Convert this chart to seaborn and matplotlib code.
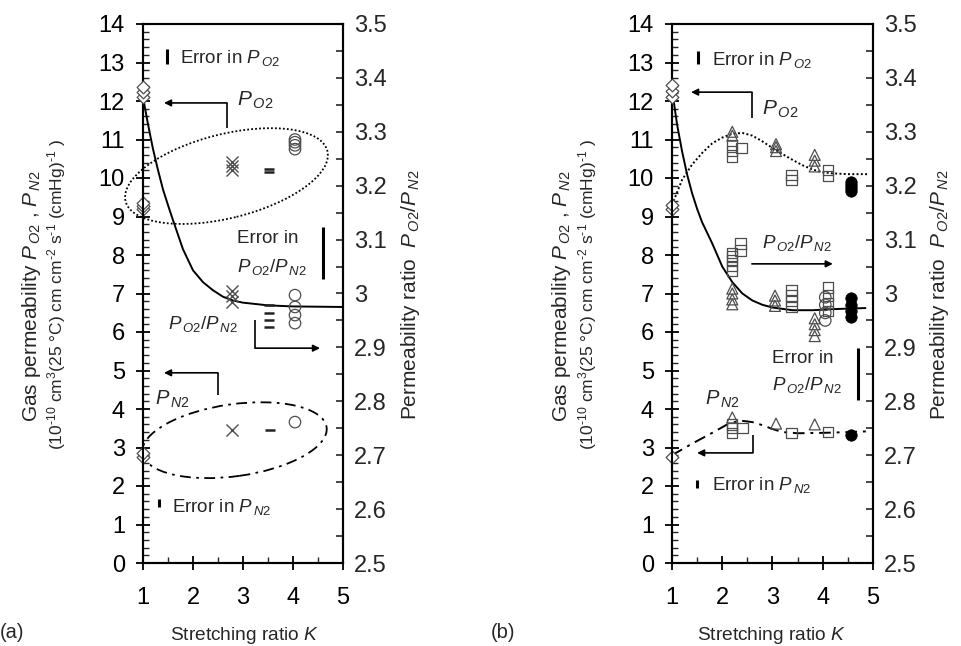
import matplotlib
matplotlib.use("Agg")
import matplotlib.pyplot as plt
import matplotlib.transforms as mtransforms
from matplotlib.patches import Ellipse
from matplotlib.ticker import MultipleLocator, FuncFormatter
import numpy as np
import seaborn as sns

sns.set_theme(style="ticks", rc={"axes.linewidth": 1.5})
plt.rcParams["font.family"] = ["Liberation Sans", "DejaVu Sans"]
plt.rcParams["mathtext.fontset"] = "custom"
plt.rcParams["mathtext.rm"] = "Liberation Sans"
plt.rcParams["mathtext.it"] = "Liberation Sans:italic"
plt.rcParams["mathtext.bf"] = "Liberation Sans:bold"

GRAY = "#4d4d4d"

# ---------------- panel (a) ----------------
# oxygen permeability P_O2 (left axis)
a_o2_k = [1, 1, 1, 2.78, 2.78, 2.78, 3.52, 3.52, 4.04, 4.04, 4.04, 4.04]
a_o2_v = [9.2, 9.28, 9.36, 10.22, 10.32, 10.42, 10.15, 10.24, 10.75, 10.85, 10.93, 11.0]
a_o2_m = ["D", "D", "D", "x", "x", "x", "_", "_", "o", "o", "o", "o"]
# nitrogen permeability P_N2 (left axis)
a_n2_k = [1, 1, 2.78, 3.54, 4.04]
a_n2_v = [2.75, 2.85, 3.45, 3.45, 3.66]
a_n2_m = ["D", "D", "x", "_", "o"]
# selectivity P_O2/P_N2 (right axis)
a_r_k = [1, 1, 1, 2.78, 2.78, 2.78, 3.52, 3.52, 3.52, 3.52, 4.04, 4.04, 4.04, 4.04]
a_r_v = [3.364, 3.373, 3.383, 2.985, 2.995, 3.005, 2.938, 2.951, 2.964, 2.979,
         2.945, 2.960, 2.975, 2.997]
a_r_m = ["D"] * 3 + ["x"] * 3 + ["_"] * 4 + ["o"] * 4
# fitted selectivity curve
a_fit_k = [1.0, 1.1, 1.2, 1.3, 1.4, 1.5, 1.6, 1.8, 2.0, 2.2, 2.4, 2.6, 2.8, 3.0, 3.5, 4.0, 5.0]
a_fit_r = [3.364, 3.314, 3.268, 3.229, 3.193, 3.164, 3.136, 3.082, 3.043, 3.021,
           3.006, 2.994, 2.987, 2.983, 2.978, 2.976, 2.975]

# ---------------- panel (b) ----------------
b_o2_k = [1, 1, 2.2, 2.2, 3.07, 3.07, 3.07, 3.84, 3.84, 3.84,
          2.2, 2.2, 2.2, 2.38, 3.38, 3.38, 4.1, 4.1, 4.57, 4.57, 4.57, 4.57]
b_o2_v = [9.2, 9.3, 11.1, 11.2, 10.7, 10.8, 10.88, 10.3, 10.45, 10.6,
          10.55, 10.7, 10.86, 10.78, 9.95, 10.08, 10.05, 10.2, 9.66, 9.74, 9.82, 9.9]
b_o2_m = ["D"] * 2 + ["^"] * 8 + ["s"] * 8 + ["f"] * 4
b_n2_k = [1, 2.2, 3.07, 3.84, 2.2, 2.2, 2.2, 2.4, 3.38, 4.1, 4.57]
b_n2_v = [2.75, 3.78, 3.62, 3.6, 3.38, 3.5, 3.6, 3.5, 3.38, 3.4, 3.32]
b_n2_m = ["D", "^", "^", "^", "s", "s", "s", "s", "s", "s", "f"]
b_r_k = [1, 1, 1,
         2.2, 2.2, 2.2, 2.2, 3.05, 3.05, 3.05, 3.84, 3.84, 3.84, 3.84,
         2.2, 2.2, 2.2, 2.2, 2.2, 2.36, 2.36, 3.38, 3.38, 3.38, 3.38, 4.1, 4.1, 4.1, 4.1,
         4.05, 4.05, 4.05, 4.05,
         4.57, 4.57, 4.57, 4.57]
b_r_v = [3.364, 3.375, 3.386,
         2.980, 2.989, 3.000, 3.009, 2.977, 2.987, 2.996, 2.921, 2.932, 2.943, 2.954,
         3.043, 3.051, 3.061, 3.069, 3.075, 3.080, 3.093, 2.975, 2.986, 2.996, 3.007,
         2.968, 2.982, 2.996, 3.011,
         2.950, 2.964, 2.979, 2.993,
         2.957, 2.968, 2.979, 2.991]
b_r_m = ["D"] * 3 + ["^"] * 11 + ["s"] * 15 + ["o"] * 4 + ["f"] * 4
# trend curves
b_fit_k = [1.0, 1.1, 1.2, 1.3, 1.4, 1.5, 1.6, 1.8, 2.0, 2.2, 2.4, 2.6, 2.8, 3.0, 3.4, 3.8, 4.2, 4.85]
b_fit_r = [3.379, 3.314, 3.264, 3.221, 3.186, 3.157, 3.132, 3.093, 3.050, 3.021,
           3.000, 2.987, 2.979, 2.974, 2.969, 2.969, 2.971, 2.973]
b_o2line_k = [1.0, 1.2, 1.4, 1.6, 1.8, 2.0, 2.2, 2.4, 2.6, 2.8, 3.0, 3.2, 3.4, 3.6,
              3.8, 4.0, 4.2, 4.5, 4.9]
b_o2line_v = [9.3, 9.95, 10.35, 10.65, 10.9, 11.05, 11.15, 11.17, 11.1, 10.95, 10.78,
              10.62, 10.47, 10.33, 10.22, 10.15, 10.12, 10.1, 10.1]
b_n2line_k = [1.0, 1.4, 1.8, 2.1, 2.35, 2.6, 2.8, 3.0, 3.2, 3.5, 4.0, 4.5, 4.9]
b_n2line_v = [2.8, 3.1, 3.38, 3.6, 3.7, 3.66, 3.58, 3.48, 3.4, 3.37, 3.38, 3.4, 3.42]

PO2 = r"$P_{\,\mathit{O2}}$"
PN2 = r"$P_{\,\mathit{N2}}$"
RATIO = r"$P_{\,\mathit{O2}}/P_{\,\mathit{N2}}$"

MARKS = {
    "D": dict(marker="D", s=42, facecolor="white", edgecolor=GRAY, linewidth=0.9),
    "x": dict(marker="x", s=75, color=GRAY, linewidth=1.0),
    "_": dict(marker="_", s=60, color="#222222", linewidth=1.8),
    "o": dict(marker="o", s=68, facecolor="none", edgecolor=GRAY, linewidth=0.9),
    "^": dict(marker="^", s=62, facecolor="none", edgecolor=GRAY, linewidth=0.9),
    "s": dict(marker="s", s=56, facecolor="none", edgecolor=GRAY, linewidth=0.9),
    "f": dict(marker="o", s=68, facecolor="black", edgecolor="black", linewidth=0.5),
}


def draw_points(ax, ks, vs, ms):
    for key in dict.fromkeys(ms):
        sel = [i for i, m in enumerate(ms) if m == key]
        sns.scatterplot(x=[ks[i] for i in sel], y=[vs[i] for i in sel], ax=ax,
                        legend=False, zorder=3, clip_on=False, **MARKS[key])


def draw_curve(ax, ks, vs, ls):
    sns.lineplot(x=ks, y=vs, ax=ax, color="black", linewidth=1.4, linestyle=ls,
                 sort=False, estimator=None)


def ring(ax, k, v, w, h, angle, ls):
    tr = mtransforms.ScaledTranslation(k, v, ax.transData)
    ax.add_patch(Ellipse((0, 0), w, h, angle=angle, transform=tr, fill=False,
                         edgecolor="black", linewidth=1.3, linestyle=ls, clip_on=False))


def elbow(ax, pts):
    if len(pts) > 2:
        xs, ys = zip(*pts[:-1])
        ax.plot(xs, ys, color="black", lw=1.2, solid_capstyle="butt")
    ax.annotate("", xy=pts[-1], xytext=pts[-2],
                arrowprops=dict(arrowstyle="-|>", color="black", lw=1.2,
                                mutation_scale=10, shrinkA=0, shrinkB=0))


def errbar(ax, k, lo, hi):
    ax.plot([k, k], [lo, hi], color="black", lw=2.2, solid_capstyle="butt")


def style_axes(ax, ax2):
    ax.set_xlim(1, 5)
    ax.set_ylim(0, 14)
    ax2.set_ylim(2.5, 3.5)
    ax.set_xticks([1, 2, 3, 4, 5])
    ax.set_yticks(range(0, 15))
    ax.xaxis.set_minor_locator(MultipleLocator(0.5))
    ax.yaxis.set_minor_locator(MultipleLocator(0.2))
    ax.tick_params(which="major", direction="inout", length=10, width=1.3,
                   labelsize=17, pad=8, colors="black", right=False, top=False)
    ax.tick_params(axis="x", which="major", pad=12)
    ax.tick_params(which="minor", direction="in", length=4.5, width=1.0,
                   right=False, top=False)
    ax2.set_yticks(np.round(np.arange(2.5, 3.501, 0.1), 2))
    ax2.yaxis.set_minor_locator(MultipleLocator(0.05))
    ax2.yaxis.set_major_formatter(FuncFormatter(lambda v, p: f"{v:g}"))
    ax2.tick_params(axis="y", which="major", direction="in", length=5, width=1.2,
                    labelsize=17, pad=8, left=False)
    ax2.tick_params(axis="y", which="minor", direction="in", length=5, width=1.2,
                    left=False)
    for a in (ax, ax2):
        a.set_xlabel("")
        a.set_ylabel("")
        for sp in a.spines.values():
            sp.set_visible(True)
            sp.set_linewidth(1.5)
            sp.set_color("black")


fig = plt.figure(figsize=(9.62, 6.46), dpi=100)
W, H = 962.0, 646.0
axa = fig.add_axes([143 / W, 83 / H, 200 / W, 539 / H])
axb = fig.add_axes([672 / W, 83 / H, 201 / W, 539 / H])
axa2 = axa.twinx()
axb2 = axb.twinx()
for a in (axa, axb, axa2, axb2):
    a.set_facecolor("none")

# ---- panel (a) ----
draw_curve(axa2, a_fit_k, a_fit_r, "-")
draw_points(axa, a_o2_k, a_o2_v, a_o2_m)
draw_points(axa, a_n2_k, a_n2_v, a_n2_m)
draw_points(axa2, a_r_k, a_r_v, a_r_m)
ring(axa, 2.67, 10.05, 208, 84, 14, (0, (1, 1.2)))
ring(axa, 2.83, 3.19, 186, 72, 8, (0, (6, 3, 1.5, 3)))

errbar(axa, 1.48, 12.95, 13.35)
axa.text(1.74, 13.0, "Error in " + PO2, fontsize=13.5, va="baseline")
axa.text(2.88, 11.87, PO2, fontsize=15, va="baseline")
elbow(axa, [(2.68, 11.3), (2.68, 11.95), (1.42, 11.95)])
axa.text(1.5, 6.08, RATIO, fontsize=13.5, va="baseline")
elbow(axa, [(3.24, 6.31), (3.24, 5.58), (4.54, 5.58)])
axa.text(2.88, 8.31, "Error in", fontsize=13.5, va="baseline")
axa.text(2.88, 7.56, RATIO, fontsize=13.5, va="baseline")
errbar(axa2, 4.6, 3.027, 3.123)
axa.text(1.24, 4.1, PN2, fontsize=14.5, va="baseline")
elbow(axa, [(2.5, 4.36), (2.5, 4.94), (1.42, 4.94)])
errbar(axa, 1.32, 1.45, 1.65)
axa.text(1.58, 1.32, "Error in " + PN2, fontsize=13.5, va="baseline")

# ---- panel (b) ----
draw_curve(axb2, b_fit_k, b_fit_r, "-")
draw_curve(axb, b_o2line_k, b_o2line_v, (0, (1, 1.2)))
draw_curve(axb, b_n2line_k, b_n2line_v, (0, (6, 3, 1.5, 3)))
draw_points(axb, b_o2_k, b_o2_v, b_o2_m)
draw_points(axb, b_n2_k, b_n2_v, b_n2_m)
draw_points(axb2, b_r_k, b_r_v, b_r_m)

errbar(axb, 1.52, 12.95, 13.3)
axb.text(1.8, 12.94, "Error in " + PO2, fontsize=13.5, va="baseline")
axb.text(2.79, 11.64, PO2, fontsize=15, va="baseline")
elbow(axb, [(2.59, 11.56), (2.59, 12.23), (1.38, 12.23)])
axb.text(2.79, 8.18, RATIO, fontsize=13.5, va="baseline")
elbow(axb, [(2.59, 7.77), (4.2, 7.77)])
axb.text(2.99, 5.19, "Error in", fontsize=13.5, va="baseline")
axb.text(2.99, 4.49, RATIO, fontsize=13.5, va="baseline")
errbar(axb2, 4.7, 2.802, 2.899)
axb.text(1.66, 4.1, PN2, fontsize=14.5, va="baseline")
elbow(axb, [(2.61, 3.32), (2.61, 2.86), (1.5, 2.86)])
errbar(axb, 1.5, 1.95, 2.16)
axb.text(1.8, 1.9, "Error in " + PN2, fontsize=13.5, va="baseline")

style_axes(axa, axa2)
style_axes(axb, axb2)

# axis titles and panel tags
ylab1 = "Gas permeability " + PO2 + " , " + PN2
ylab2 = (r"(10$^{\text{-10}}$ cm$^{3}$(25 °C) cm cm$^{\text{-2}}$ s$^{\text{-1}}$"
         r" (cmHg)$^{\text{-1}}$ )")
ylab_r = "Permeability ratio  " + RATIO
for x1, x2, xr, xc, xt, tag in ((32, 57, 410, 245, 12, "(a)"), (562, 588, 940, 772, 503, "(b)")):
    fig.text(x1 / W, 1 - 296 / H, ylab1, rotation=90, ha="center", va="center", fontsize=15)
    fig.text(x2 / W, 1 - 295 / H, ylab2, rotation=90, ha="center", va="center", fontsize=12.5)
    fig.text(xr / W, 1 - 295 / H, ylab_r, rotation=90, ha="center", va="center", fontsize=15)
    fig.text(xc / W, 6 / H, "Stretching ratio $\\mathit{K}$", ha="center", va="baseline", fontsize=13.8)
    fig.text(xt / W, 1 - 638 / H, tag, ha="center", va="baseline", fontsize=14.5)

fig.savefig("out.png", dpi=100, facecolor="white")
